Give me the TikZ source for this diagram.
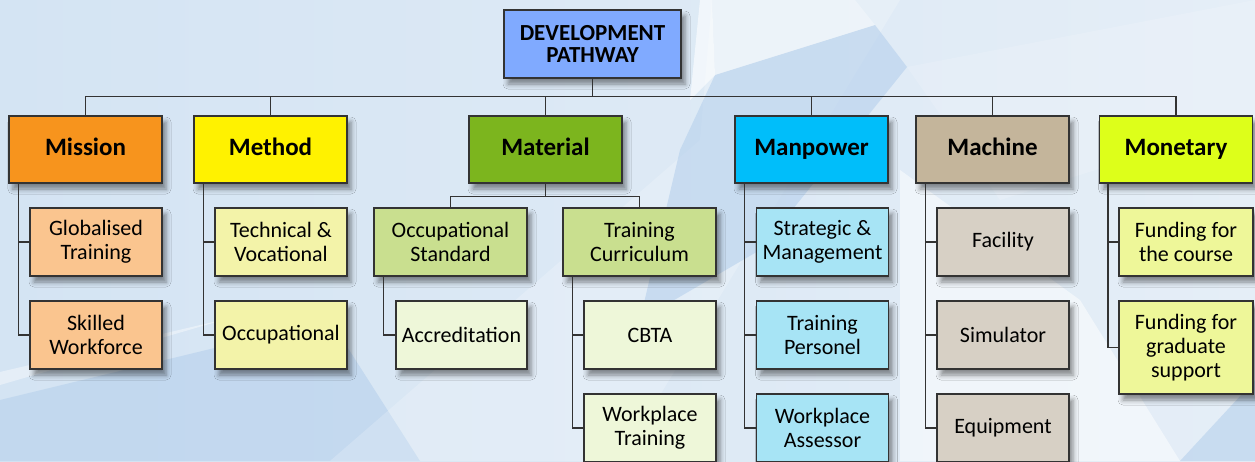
\documentclass[tikz,border=0pt]{standalone}
\usepackage{fontspec}
\setmainfont{Carlito}
\usetikzlibrary{shadows.blur}

\definecolor{bgleft}{HTML}{D4E4F3}
\definecolor{bgright}{HTML}{E5EEF7}
\definecolor{bgblue}{HTML}{B6D0EC}
\definecolor{linegray}{HTML}{333333}
\definecolor{topblue}{HTML}{80AAFF}
\definecolor{missionc}{HTML}{F7941D}
\definecolor{methodc}{HTML}{FFF200}
\definecolor{materialc}{HTML}{7CB51E}
\definecolor{manpowerc}{HTML}{00BEFA}
\definecolor{machinec}{HTML}{C4B59B}
\definecolor{monetaryc}{HTML}{DDFF1A}
\definecolor{missionl}{HTML}{FAC58F}
\definecolor{methodl}{HTML}{F3F3A9}
\definecolor{materiall}{HTML}{C9DF8F}
\definecolor{materialxl}{HTML}{EEF7D9}
\definecolor{manpowerl}{HTML}{A7E4F5}
\definecolor{machinel}{HTML}{D7D0C5}
\definecolor{monetaryl}{HTML}{EEF799}

\tikzset{
  box/.style={draw=linegray, line width=1.3pt, align=center, inner sep=2pt,
    blur shadow={shadow xshift=4pt, shadow yshift=-6pt, shadow blur radius=5pt,
      shadow opacity=45}},
  topbox/.style={box, minimum width=177pt, minimum height=68pt,
    font=\fontsize{23}{22}\selectfont\bfseries},
  headbox/.style={box, minimum width=153pt, minimum height=67pt,
    text height=17pt, text depth=5pt,
    font=\fontsize{25}{25}\selectfont\bfseries},
  itembox/.style={box, minimum width=132pt, minimum height=68pt,
    font=\fontsize{22}{24}\selectfont},
  wideitem/.style={itembox, minimum width=153pt},
  link/.style={draw=linegray, line width=1.3pt}
}

\begin{document}
\begin{tikzpicture}[x=1pt, y=-1pt]
    \useasboundingbox (0,0) rectangle (1255,461);

    % Background
    \shade[left color=bgleft, right color=bgright] (0,0) rectangle (1255,461);
    \fill[bgblue, opacity=0.6] (0,400) -- (330,320) -- (420,461) -- (0,461) -- cycle;
    \fill[white, opacity=0.4] (0,385) -- (230,318) -- (0,372) -- cycle;
    \fill[white, opacity=0.2] (330,461) -- (700,140) -- (712,0) -- (900,0) -- (620,461) -- cycle;
    \fill[bgblue, opacity=0.6] (715,75) -- (875,25) -- (907,67) -- (760,250) -- (640,320) -- (680,150) -- cycle;
    \fill[white, opacity=0.6] (700,0) -- (712,0) -- (715,75) -- (690,100) -- cycle;
    \fill[white, opacity=0.3] (715,75) -- (875,25) -- (855,0) -- (712,0) -- cycle;
    \fill[white, opacity=0.15] (907,67) -- (1255,0) -- (1255,120) -- (1000,200) -- cycle;
    \fill[white, opacity=0.5] (900,170) -- (1080,300) -- (1180,461) -- (900,461) -- cycle;
    \fill[bgblue, opacity=0.6] (1180,461) -- (1255,380) -- (1255,461) -- cycle;

    % Top box
    \node[topbox, fill=topblue] (top) at (592.5,44) {DEVELOPMENT\\PATHWAY};

    % Six heads
    \node[headbox, fill=missionc] (mission) at (85.5,149.5) {Mission};
    \node[headbox, fill=methodc] (method) at (270.5,149.5) {Method};
    \node[headbox, fill=materialc] (material) at (545.5,149.5) {Material};
    \node[headbox, fill=manpowerc] (manpower) at (811.5,149.5) {Manpower};
    \node[headbox, fill=machinec] (machine) at (992.5,149.5) {Machine};
    \node[headbox, fill=monetaryc] (monetary) at (1176,149.5) {Monetary};

    % Mission items
    \node[itembox, fill=missionl] (glob) at (96,242) {Globalised\\Training};
    \node[itembox, fill=missionl] (skilled) at (96,335) {Skilled\\Workforce};

    % Method items
    \node[itembox, fill=methodl] (tech) at (281,242) {Technical \&\\Vocational};
    \node[itembox, fill=methodl] (occup) at (281,335) {Occupational};

    % Material items
    \node[wideitem, fill=materiall] (occstd) at (450.5,242) {Occupational\\Standard};
    \node[wideitem, fill=materiall] (curric) at (639.5,242) {Training\\Curriculum};
    \node[itembox, fill=materialxl, minimum width=131pt] (accred) at (461.5,335) {Accreditation};
    \node[itembox, fill=materialxl] (cbta) at (650,335) {CBTA};
    \node[itembox, fill=materialxl] (wptrain) at (650,428) {Workplace\\Training};

    % Manpower items
    \node[itembox, fill=manpowerl] (strat) at (822.5,242) {Strategic \&\\Management};
    \node[itembox, fill=manpowerl] (trpers) at (822.5,335) {Training\\Personel};
    \node[itembox, fill=manpowerl] (assessor) at (822.5,428) {Workplace\\Assessor};

    % Machine items
    \node[itembox, fill=machinel] (facility) at (1003,242) {Facility};
    \node[itembox, fill=machinel] (simul) at (1003,335) {Simulator};
    \node[itembox, fill=machinel] (equip) at (1003,428) {Equipment};

    % Monetary items
    \node[itembox, fill=monetaryl, minimum width=134pt] (fundcourse) at (1186,242) {Funding for\\the course};
    \node[itembox, fill=monetaryl, minimum width=134pt, minimum height=93pt] (fundgrad) at (1186,347.5) {Funding for\\graduate\\support};

    % Bus to heads
    \draw[link] (top.south) -- ++(0,18) -| (mission.north);
    \draw[link] (top.south) -- ++(0,18) -| (method.north);
    \draw[link] (top.south) -- ++(0,18) -| (material.north);
    \draw[link] (top.south) -- ++(0,18) -| (manpower.north);
    \draw[link] (top.south) -- ++(0,18) -| (machine.north);
    \draw[link] (top.south) -- ++(0,18) -| (monetary.north);

    % Heads to items
    \draw[link] ([xshift=10pt]mission.south west) |- (glob.west);
    \draw[link] ([xshift=10pt]mission.south west) |- (skilled.west);
    \draw[link] ([xshift=10pt]method.south west) |- (tech.west);
    \draw[link] ([xshift=10pt]method.south west) |- (occup.west);
    \draw[link] (material.south) -- ++(0,13) -| (occstd.north);
    \draw[link] (material.south) -- ++(0,13) -| (curric.north);
    \draw[link] ([xshift=10pt]occstd.south west) |- (accred.west);
    \draw[link] ([xshift=10pt]curric.south west) |- (cbta.west);
    \draw[link] ([xshift=10pt]curric.south west) |- (wptrain.west);
    \draw[link] ([xshift=10pt]manpower.south west) |- (strat.west);
    \draw[link] ([xshift=10pt]manpower.south west) |- (trpers.west);
    \draw[link] ([xshift=10pt]manpower.south west) |- (assessor.west);
    \draw[link] ([xshift=10pt]machine.south west) |- (facility.west);
    \draw[link] ([xshift=10pt]machine.south west) |- (simul.west);
    \draw[link] ([xshift=10pt]machine.south west) |- (equip.west);
    \draw[link] ([xshift=9pt]monetary.south west) |- (fundcourse.west);
    \draw[link] ([xshift=9pt]monetary.south west) |- (fundgrad.west);
\end{tikzpicture}
\end{document}
